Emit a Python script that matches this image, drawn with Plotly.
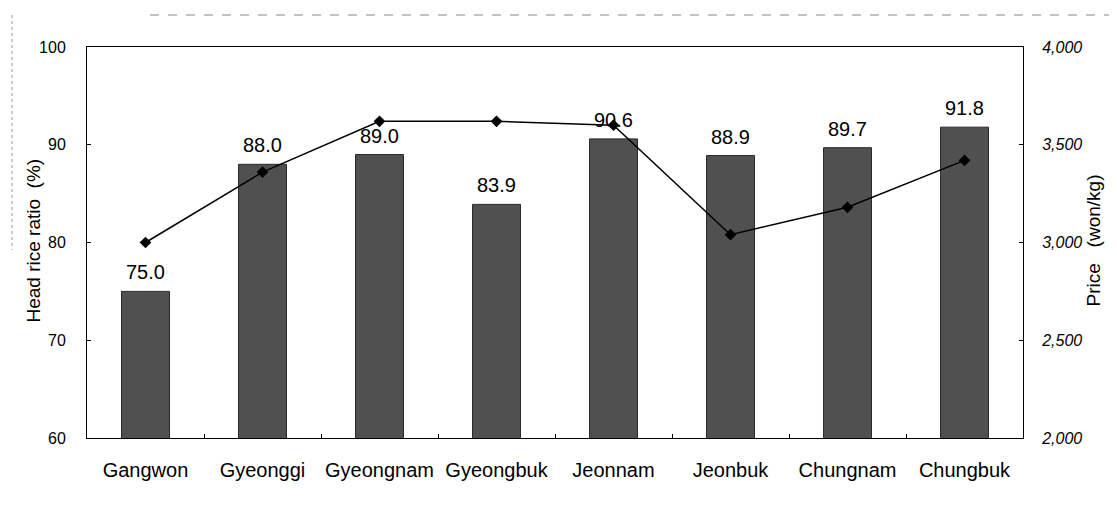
import plotly.graph_objects as go

regions = ["Gangwon", "Gyeonggi", "Gyeongnam", "Gyeongbuk", "Jeonnam", "Jeonbuk", "Chungnam", "Chungbuk"]
head_rice_ratio = [75.0, 88.0, 89.0, 83.9, 90.6, 88.9, 89.7, 91.8]
price = [3000, 3360, 3620, 3620, 3600, 3040, 3180, 3420]

font_family = "Liberation Sans, Arial, sans-serif"

# page body has an 8px default margin; work in figure coordinates
OFF = 8
W, H = 1117 - OFF, 510 - OFF
L = 87 - OFF
T = 47 - OFF
R = W - (1023 - OFF)
B = H - (438 - OFF)
pw = W - L - R
ph = H - T - B


def px(xs):
    return (xs - OFF - L) / pw


def py(ys):
    return (H - B - (ys - OFF)) / ph


fig = go.Figure()
fig.add_trace(go.Bar(
    x=regions, y=head_rice_ratio,
    marker=dict(color="#505050", line=dict(color="#2a2a2a", width=1)),
    width=0.41,
    showlegend=False,
))
fig.add_trace(go.Scatter(
    x=regions, y=price, yaxis="y2", mode="lines+markers",
    line=dict(color="black", width=1.5),
    marker=dict(symbol="diamond", size=9, color="black"),
    showlegend=False,
))

annotations = [
    dict(x=r, y=v, xref="x", yref="y", text=f"{v:.1f}", showarrow=False,
         yanchor="middle", yshift=19, font=dict(size=20, color="black"))
    for r, v in zip(regions, head_rice_ratio)
]
annotations += [
    dict(text="Head rice ratio  (%)", textangle=-90, x=px(20), y=py(241),
         xref="paper", yref="paper", showarrow=False, font=dict(size=19)),
    dict(text="Price   (won/kg)", textangle=-90, x=px(1105), y=py(241),
         xref="paper", yref="paper", showarrow=False, font=dict(size=19)),
]

fig.update_layout(
    width=W, height=H,
    margin=dict(l=L, r=R, t=T, b=B, autoexpand=False),
    plot_bgcolor="white", paper_bgcolor="white",
    font=dict(family=font_family, color="black", size=16),
    xaxis=dict(
        showline=True, linecolor="black", linewidth=1, mirror=True,
        ticks="inside", ticklen=4, tickcolor="black",
        tickson="boundaries", tickangle=0, automargin=False,
        tickfont=dict(size=20), ticklabelstandoff=14,
        showgrid=False,
    ),
    yaxis=dict(
        range=[60, 100], dtick=10, automargin=False,
        showline=True, linecolor="black", linewidth=1,
        ticks="inside", ticklen=4, tickcolor="black",
        tickfont=dict(size=16), ticklabelstandoff=17,
        showgrid=False, zeroline=False,
    ),
    yaxis2=dict(
        range=[2000, 4000], dtick=500, tickformat=",", automargin=False,
        overlaying="y", side="right",
        showline=True, linecolor="black", linewidth=1,
        ticks="inside", ticklen=4, tickcolor="black",
        tickfont=dict(size=16, style="italic"), ticklabelstandoff=15,
        showgrid=False, zeroline=False,
    ),
    annotations=annotations,
)

# faint scan-edge lines
fig.add_shape(type="line", xref="paper", yref="paper",
              x0=px(150), x1=px(1117), y0=py(15), y1=py(15),
              line=dict(color="#888", width=1, dash="dash"))
fig.add_shape(type="line", xref="paper", yref="paper",
              x0=px(12), x1=px(12), y0=py(15), y1=py(250),
              line=dict(color="#999", width=1, dash="dot"))

fig.write_html("out.html")
